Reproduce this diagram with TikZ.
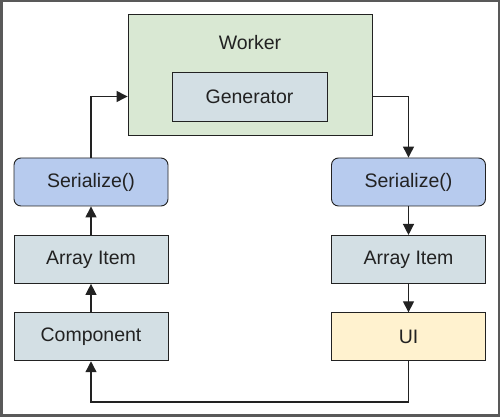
\documentclass[tikz,border=0pt]{standalone}
\usepackage{xcolor}
\usepackage{fontspec}
\setmainfont{Liberation Sans}
\usepackage{tikz}
\usetikzlibrary{arrows.meta,positioning}

\definecolor{workergreen}{HTML}{D9E8D3}
\definecolor{itemgray}{HTML}{D3DFE4}
\definecolor{serblue}{HTML}{B7CBEE}
\definecolor{uiyellow}{HTML}{FFF2CF}
\definecolor{inkdark}{HTML}{222222}

\begin{document}
\begin{tikzpicture}[x=1pt,y=1pt,>={Triangle[length=11pt,width=11pt]},node distance=28.5pt,
    font=\fontsize{19.5}{22}\selectfont,text=inkdark,
    box/.style={rectangle,draw=inkdark,line width=0.9pt,minimum width=154pt,minimum height=48pt,inner sep=0pt},
    item node/.style={box,fill=itemgray},
    ser node/.style={box,fill=serblue,rounded corners=7pt},
    link/.style={->,draw=inkdark,line width=1.3pt}]
  \useasboundingbox (0,0) rectangle (500,417);
  \draw[line width=2.5pt,draw=black!65] (1.25,1.25) rectangle (498.75,415.75);

  \node[box,fill=workergreen,minimum width=244pt,minimum height=121pt] (worker) at (250,342.5) {};
  \node (workertxt) at (250,374) {Worker};
  \node[item node,minimum width=155pt,minimum height=49pt] (gen) at (249.5,320.5) {Generator};

  \node[ser node] (serl) at (91,235) {Serialize()};
  \node[item node] (arrl) [below=of serl] {Array Item};
  \node[item node] (comp) [below=of arrl] {Component};

  \node[ser node] (serr) at (408.5,235) {Serialize()};
  \node[item node] (arrr) [below=of serr] {Array Item};
  \node[item node,fill=uiyellow] (ui) [below=of arrr] {UI};

  \coordinate (loop) at (408.5,15);

  \draw[link] (comp) -- (arrl);
  \draw[link] (arrl) -- (serl);
  \draw[link] (serl.north) |- (worker.west |- gen);
  \draw[link] (worker.east |- gen) -| (serr.north);
  \draw[link] (serr) -- (arrr);
  \draw[link] (arrr) -- (ui);
  \draw[link] (ui.south) -- (loop) -| (comp.south);
\end{tikzpicture}
\end{document}
